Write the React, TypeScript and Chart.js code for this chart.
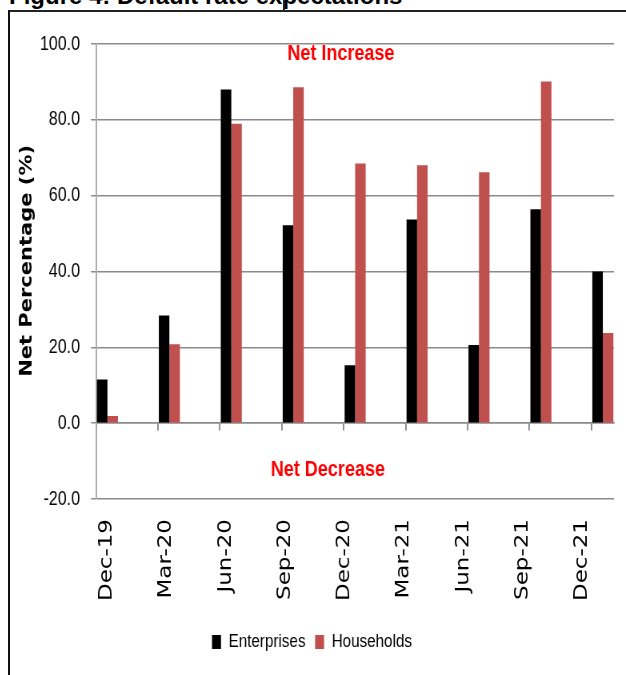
import { useEffect, useRef } from "react";
import { Chart, registerables } from "chart.js";

Chart.register(...registerables);

// Survey quarters
const categories = ["Dec-19", "Mar-20", "Jun-20", "Sep-20", "Dec-20", "Mar-21", "Jun-21", "Sep-21", "Dec-21"];
// Net percentage of respondents expecting default rates to rise
const enterprises = [11.5, 28.4, 88.0, 52.2, 15.3, 53.7, 20.6, 56.4, 40.0];
const households = [1.9, 20.8, 79.0, 88.6, 68.5, 68.0, 66.2, 90.1, 23.8];
// Value axis ticks
const yTicks = [-20, 0, 20, 40, 60, 80, 100];
const yTitle = "Net Percentage (%)";

const SANS = "'Liberation Sans', Arial, sans-serif";
const WIDE = "'DejaVu Sans', Verdana, sans-serif";
const GRID = "#8a8a8a";

// The chart is drawn on a wider canvas and compressed horizontally (condensed look).
const SQUEEZE = 0.8;
const CANVAS_W = 616 / SQUEEZE;
const CANVAS_H = 663;

// Bars sit at the left of each quarter slot; slot boundaries are offset from the bar centres.
const SLOT_SHIFT = 0.185;

// Zone captions and the rotated value-axis title
const annotationPlugin = {
  id: "annotations",
  afterDraw(chart: any) {
    const { ctx, scales } = chart;
    const xs = scales.x;
    const ys = scales.y;
    ctx.save();
    ctx.font = `bold 22.5px ${SANS}`;
    ctx.fillStyle = "#ff0000";
    ctx.textAlign = "center";
    ctx.textBaseline = "middle";
    ctx.fillText("Net Increase", xs.getPixelForValue(3.77), ys.getPixelForValue(97.3));
    ctx.fillText("Net Decrease", xs.getPixelForValue(3.56), ys.getPixelForValue(-12.4));

    ctx.translate(21.5, ys.getPixelForValue(42.8));
    ctx.rotate(-Math.PI / 2);
    ctx.font = `bold 21px ${WIDE}`;
    ctx.fillStyle = "#000";
    ctx.fillText(yTitle, 0, 0);
    ctx.restore();
  },
};

export default function App() {
  const canvasRef = useRef<HTMLCanvasElement | null>(null);

  useEffect(() => {
    if (!canvasRef.current) return;
    const chart = new Chart(canvasRef.current, {
      type: "bar",
      data: {
        datasets: [
          {
            label: "Enterprises",
            data: enterprises.map((v, i) => ({ x: i, y: v })),
            backgroundColor: "#000000",
            xAxisID: "x",
            yAxisID: "y",
          },
          {
            label: "Households",
            data: households.map((v, i) => ({ x: i, y: v })),
            backgroundColor: "#C0504D",
            xAxisID: "x",
            yAxisID: "y",
          },
        ],
      },
      options: {
        responsive: false,
        animation: false,
        categoryPercentage: 0.34,
        barPercentage: 1,
        layout: { padding: { top: 32, right: 12 / SQUEEZE, bottom: 13.5, left: 0 } },
        plugins: {
          tooltip: { enabled: false },
          legend: {
            position: "bottom",
            labels: {
              boxWidth: 9 / SQUEEZE,
              boxHeight: 14,
              padding: 12,
              color: "#000",
              font: { family: SANS, size: 19 },
            },
          },
        },
        scales: {
          // bar axis, drawn along the zero line with slot tick marks
          x: {
            type: "linear",
            position: { y: 0 },
            min: -SLOT_SHIFT,
            max: categories.length - 1 + 0.18,
            offset: false,
            afterBuildTicks: (s: any) => {
              s.ticks = categories.map((_, i) => ({ value: i - SLOT_SHIFT }));
            },
            ticks: { display: false },
            grid: {
              display: true,
              drawOnChartArea: false,
              drawTicks: true,
              tickLength: 7,
              color: GRID,
              lineWidth: 1.5 / SQUEEZE,
              offset: false,
            },
            border: { display: true, color: GRID, width: 1.5 },
          },
          // quarter labels along the bottom
          xl: {
            type: "linear",
            position: "bottom",
            min: -SLOT_SHIFT,
            max: categories.length - 1 + 0.535,
            offset: false,
            afterBuildTicks: (s: any) => {
              s.ticks = categories.map((_, i) => ({ value: i }));
            },
            afterFit: (s: any) => {
              s.height = 121.5;
            },
            ticks: {
              autoSkip: false,
              minRotation: 90,
              maxRotation: 90,
              padding: 20,
              color: "#000",
              font: { family: WIDE, size: 23 },
              callback: (v: any) => categories[Math.round(Number(v))],
            },
            grid: { display: false, drawTicks: false, offset: false },
            border: { display: false },
          },
          y: {
            type: "linear",
            min: -20,
            max: 100,
            afterBuildTicks: (s: any) => {
              s.ticks = yTicks.map((v) => ({ value: v }));
            },
            afterFit: (s: any) => {
              s.width = 86 / SQUEEZE;
            },
            ticks: {
              padding: 11 / SQUEEZE,
              color: "#000",
              font: { family: SANS, size: 20 },
              callback: (v: any) => Number(v).toFixed(1),
            },
            grid: { color: GRID, lineWidth: 1.5, tickLength: 5 / SQUEEZE, drawTicks: true },
            border: { display: true, color: "#a8a8a8", width: 1.5 / SQUEEZE },
            title: { display: false },
          },
        },
      },
      plugins: [annotationPlugin],
    } as any);
    return () => chart.destroy();
  }, []);

  return (
    <div
      style={{
        position: "absolute",
        left: 0,
        top: 0,
        width: 626,
        height: 675,
        overflow: "hidden",
        background: "#fff",
      }}
    >
      <div
        style={{
          position: "absolute",
          left: 9,
          top: -16,
          font: "bold 24px 'Liberation Sans', Arial, sans-serif",
          lineHeight: "24px",
          whiteSpace: "nowrap",
          color: "#000",
        }}
      >
        Figure 4: Default rate expectations
      </div>
      <div style={{ position: "absolute", left: 283, top: 0, width: 2, height: 11, background: "#222" }} />
      <div style={{ position: "absolute", left: 8, top: 10, width: 618, height: 2, background: "#222" }} />
      <div style={{ position: "absolute", left: 8, top: 10, width: 2, height: 665, background: "#111" }} />
      <div
        style={{
          position: "absolute",
          left: 10,
          top: 12,
          width: CANVAS_W,
          height: CANVAS_H,
          transform: `scaleX(${SQUEEZE})`,
          transformOrigin: "0 0",
        }}
      >
        <canvas ref={canvasRef} width={CANVAS_W} height={CANVAS_H} style={{ display: "block" }} />
      </div>
    </div>
  );
}
